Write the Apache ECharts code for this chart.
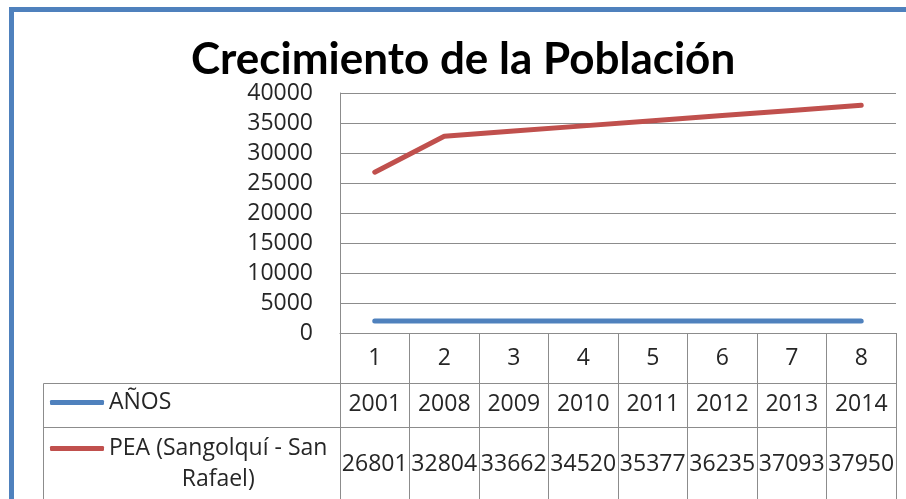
<!DOCTYPE html>
<html>
<head>
<meta charset="utf-8">
<script src="https://cdn.jsdelivr.net/npm/echarts@6/dist/echarts.min.js"></script>
<style>
  html, body { margin: 0; padding: 0; background: #fff; }
  #main { width: 906px; height: 499px; }
</style>
</head>
<body>
<div id="main"></div>
<script>
var chartDom = document.getElementById('main');
var myChart = echarts.init(chartDom);
var option;

// datos del grafico
var categorias = ['1', '2', '3', '4', '5', '6', '7', '8'];
var anios = [2001, 2008, 2009, 2010, 2011, 2012, 2013, 2014];
var pea = [26801, 32804, 33662, 34520, 35377, 36235, 37093, 37950];
var nombreAnios = 'AÑOS';
var nombrePea = 'PEA (Sangolquí - San Rafael)';

var gris = '#8c8c8c';
var fuente = 'Open Sans';
var texto = '#262626';

option = {
  animation: false,
  backgroundColor: '#fff',
  title: {
    text: 'Crecimiento de la Población',
    left: 191,
    top: 38,
    padding: 0,
    textStyle: {
      fontFamily: 'Lato',
      fontWeight: 'bold',
      fontSize: 44,
      color: '#000'
    }
  },
  legend: [{
    data: [nombreAnios],
    left: 50,
    top: 387,
    padding: 0,
    icon: 'roundRect',
    itemWidth: 54,
    itemHeight: 5,
    textStyle: { fontFamily: fuente, fontSize: 23, color: texto, lineHeight: 31 }
  }, {
    data: [nombrePea],
    left: 50,
    top: 402,
    padding: 0,
    icon: 'roundRect',
    itemWidth: 54,
    itemHeight: 5,
    formatter: function () {
      return '\n{c|PEA (Sangolquí - San}\n{c|Rafael)}';
    },
    textStyle: {
      fontFamily: fuente, fontSize: 23, color: texto, lineHeight: 31,
      rich: { c: { align: 'center', fontFamily: fuente, fontSize: 23, lineHeight: 31, color: texto } }
    }
  }],
  grid: {
    left: 340,
    right: 10,
    top: 93,
    bottom: 166
  },
  xAxis: [{
    type: 'category',
    data: categorias,
    boundaryGap: true,
    axisLine: { lineStyle: { color: gris, width: 1 } },
    axisTick: { show: true, length: 50, interval: 0, lineStyle: { color: gris } },
    axisLabel: { interval: 0, margin: 14, fontFamily: fuente, fontSize: 23, color: texto }
  }, {
    type: 'category',
    data: anios.map(String),
    position: 'bottom',
    offset: 50,
    boundaryGap: true,
    axisLine: { show: true, lineStyle: { color: gris, width: 1 } },
    axisTick: { show: true, length: 44, interval: 0, lineStyle: { color: gris } },
    axisLabel: { interval: 0, margin: 10, fontFamily: fuente, fontSize: 23, color: texto }
  }, {
    type: 'category',
    data: pea.map(String),
    position: 'bottom',
    offset: 94,
    boundaryGap: true,
    axisLine: { show: true, lineStyle: { color: gris, width: 1 } },
    axisTick: { show: true, length: 90, interval: 0, lineStyle: { color: gris } },
    axisLabel: { interval: 0, margin: 26, fontFamily: fuente, fontSize: 23, color: texto }
  }],
  yAxis: {
    type: 'value',
    min: 0,
    max: 40000,
    interval: 5000,
    axisLine: { show: true, lineStyle: { color: gris } },
    axisTick: { show: false },
    splitLine: { show: true, lineStyle: { color: gris, width: 1 } },
    axisLabel: {
      margin: 27, fontFamily: fuente, fontSize: 23, color: texto,
      formatter: function (v) { return String(v); }
    }
  },
  series: [{
    name: nombreAnios,
    type: 'line',
    xAxisIndex: 0,
    data: anios,
    showSymbol: false,
    color: '#4f81bd',
    lineStyle: { width: 5, cap: 'round', color: '#4f81bd' }
  }, {
    name: nombrePea,
    type: 'line',
    xAxisIndex: 0,
    data: pea,
    showSymbol: false,
    color: '#c0504d',
    lineStyle: { width: 5, cap: 'round', color: '#c0504d' }
  }],
  graphic: [{
    type: 'rect',
    shape: { x: 11.5, y: 9.5, width: 1000, height: 1000 },
    style: { fill: 'none', stroke: '#4f81bd', lineWidth: 5 },
    silent: true
  }, {
    type: 'line',
    shape: { x1: 43.5, y1: 383.5, x2: 340, y2: 383.5 },
    style: { stroke: gris, lineWidth: 1 }
  }, {
    type: 'line',
    shape: { x1: 43.5, y1: 427.5, x2: 340, y2: 427.5 },
    style: { stroke: gris, lineWidth: 1 }
  }, {
    type: 'line',
    shape: { x1: 43.5, y1: 383.5, x2: 43.5, y2: 510 },
    style: { stroke: gris, lineWidth: 1 }
  }]
};

myChart.setOption(option);
</script>
</body>
</html>
